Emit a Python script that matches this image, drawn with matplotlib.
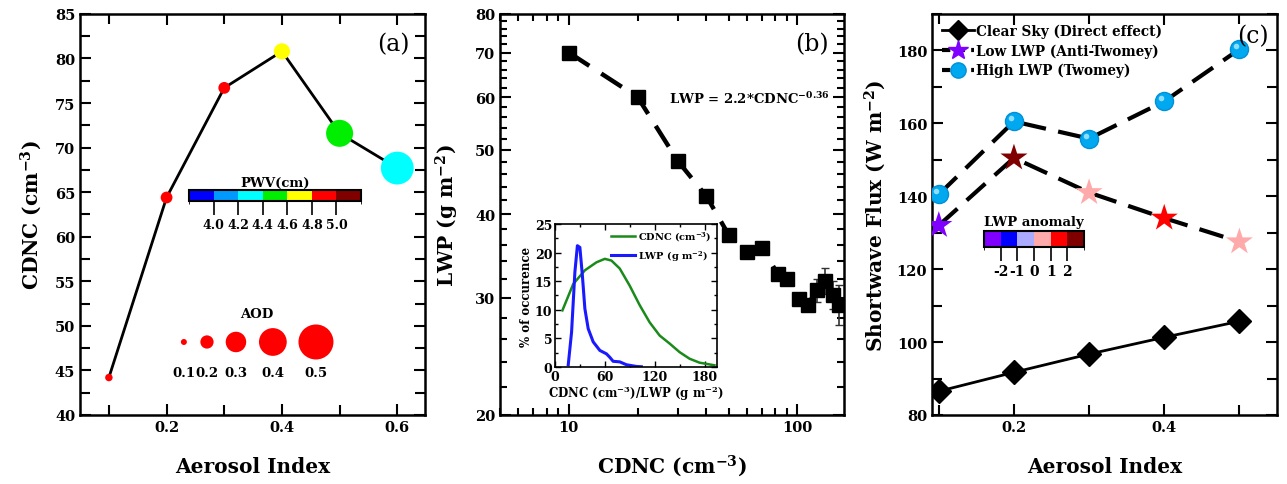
import numpy as np
import matplotlib
matplotlib.use('Agg')
import matplotlib.pyplot as plt
import matplotlib.cm as cm
import matplotlib.transforms as mtransforms
from matplotlib.colors import ListedColormap, BoundaryNorm
from matplotlib.ticker import FixedLocator, MultipleLocator, NullFormatter, LogLocator
from matplotlib.lines import Line2D

plt.rcParams['font.family'] = 'DejaVu Serif'
plt.rcParams['font.weight'] = 'bold'
plt.rcParams['mathtext.fontset'] = 'custom'
plt.rcParams['mathtext.rm'] = 'DejaVu Serif:bold'
plt.rcParams['mathtext.it'] = 'DejaVu Serif:bold'
plt.rcParams['mathtext.bf'] = 'DejaVu Serif:bold'
plt.rcParams['axes.linewidth'] = 1.8
plt.rcParams['axes.labelweight'] = 'bold'

# ---- panel (a) data ----
ai_a = [0.1, 0.2, 0.3, 0.4, 0.5, 0.6]
cdnc_a = [44.2, 64.4, 76.7, 80.8, 71.6, 67.7]
pwv_a = [4.9, 4.9, 4.9, 4.7, 4.5, 4.3]
aod_a = [0.12, 0.18, 0.18, 0.24, 0.39, 0.47]
aod_legend = [0.1, 0.2, 0.3, 0.4, 0.5]
pwv_colors = ['#0000ff', '#0099ff', '#00ffff', '#00ee00', '#ffff00', '#ff0000', '#800000']
pwv_bounds = [3.8, 4.0, 4.2, 4.4, 4.6, 4.8, 5.0, 5.2]
pwv_ticks = [4.0, 4.2, 4.4, 4.6, 4.8, 5.0]

# ---- panel (b) data ----
cdnc_b = [10, 20, 30, 40, 50, 60, 70, 82, 90, 102, 111, 122, 132, 143, 152]
lwp_b = [70, 60, 48.1, 42.6, 37.3, 35.1, 35.6, 32.6, 32.0, 29.9, 29.3, 30.8, 31.8, 30.3, 29.3]
lwp_err = [0, 0, 0, 0, 0, 0, 0, 0, 0, 0, 0.6, 1.2, 1.4, 1.5, 2.0]

# inset distributions
cdnc_bin = [9, 22, 36, 50, 60, 68, 78, 90, 102, 114, 126, 138, 150, 162, 174, 192]
cdnc_pct = [9.9, 14.5, 16.9, 18.3, 18.9, 18.6, 17.2, 14.2, 10.8, 7.8, 5.5, 4.1, 2.6, 1.45, 0.76, 0.3]
lwp_bin = [16, 20, 24, 27, 30, 33, 36, 40, 46, 54, 62, 66, 70, 78, 86, 98, 104]
lwp_pct = [0.4, 6.1, 16.6, 21.2, 20.9, 16.0, 10.2, 6.7, 4.4, 2.9, 2.3, 1.7, 1.0, 0.9, 0.4, 0.1, 0.05]

# ---- panel (c) data ----
ai_c = [0.1, 0.2, 0.3, 0.4, 0.5]
clear_sky = [86.5, 91.7, 96.7, 101.3, 105.7]
low_lwp = [132.0, 150.5, 141.0, 134.0, 127.5]
low_anom = [-2.5, 2.5, 0.5, 1.5, 0.5]
high_lwp = [140.5, 160.5, 155.8, 166.0, 180.3]
anom_colors = ['#8000ff', '#0000ff', '#aaaaff', '#ffaaaa', '#ff0000', '#800000']
anom_bounds = [-3, -2, -1, 0, 1, 2, 3]
anom_ticks = [-2, -1, 0, 1, 2]


def aod_size(a):
    d = (72.5 * np.asarray(a) - 1.25) * 0.72
    return d ** 2


def style_ticks(ax):
    ax.tick_params(which='both', direction='in', top=True, right=True,
                   width=1.5, labelsize=10.5)
    ax.tick_params(which='major', length=8)
    ax.tick_params(which='minor', length=7)
    for lab in ax.get_xticklabels() + ax.get_yticklabels():
        lab.set_fontweight('bold')


fig = plt.figure(figsize=(12.87, 4.85), dpi=100)

# ================= (a) =================
ax1 = fig.add_axes([0.0622, 0.1423, 0.268, 0.827])
pwv_cmap = ListedColormap(pwv_colors)
pwv_norm = BoundaryNorm(pwv_bounds, pwv_cmap.N)
ax1.plot(ai_a, cdnc_a, color='black', lw=2, zorder=2)
ax1.scatter(ai_a, cdnc_a, s=aod_size(aod_a), c=pwv_a, cmap=pwv_cmap, norm=pwv_norm,
            edgecolors='none', zorder=3)
ax1.set_xlim(0.05, 0.648)
ax1.set_ylim(40, 85)
ax1.xaxis.set_major_locator(FixedLocator([0.2, 0.4, 0.6]))
ax1.xaxis.set_minor_locator(FixedLocator([0.1, 0.3, 0.5]))
ax1.yaxis.set_major_locator(MultipleLocator(5))
ax1.yaxis.set_minor_locator(MultipleLocator(2.5))
style_ticks(ax1)
ax1.set_xlabel('Aerosol Index', fontsize=14.5, labelpad=16)
ax1.set_ylabel(r'CDNC (cm$^{-3}$)', fontsize=14.5, labelpad=8)
ax1.text(0.955, 0.955, '(a)', transform=ax1.transAxes, ha='right', va='top',
         fontsize=17, fontweight='normal')

# AOD size legend
leg_x = [0.301, 0.368, 0.452, 0.559, 0.684]
ax1.scatter(leg_x, [0.182] * 5, s=aod_size(aod_legend), color='red',
            edgecolors='none', transform=ax1.transAxes, clip_on=False)
for xx, a in zip(leg_x, aod_legend):
    ax1.text(xx, 0.107, f'{a:.1f}', transform=ax1.transAxes, ha='center',
             va='center', fontsize=9.5)
ax1.text(0.513, 0.252, 'AOD', transform=ax1.transAxes, ha='center', va='center',
         fontsize=9.5)

# PWV colorbar
cax1 = fig.add_axes([0.1469, 0.5835, 0.1336, 0.0227])
cb1 = fig.colorbar(cm.ScalarMappable(norm=pwv_norm, cmap=pwv_cmap), cax=cax1,
                   orientation='horizontal', ticks=pwv_ticks)
cb1.outline.set_linewidth(1.5)
cax1.tick_params(length=10, width=1.2, labelsize=9, pad=2)
cax1.set_xticklabels([f'{t:.1f}' for t in pwv_ticks], fontweight='bold')
cax1.set_title('PWV(cm)', fontsize=9.5, fontweight='bold', pad=3)

# ================= (b) =================
ax2 = fig.add_axes([0.3885, 0.1423, 0.2673, 0.827])
ax2.set_xscale('log')
ax2.set_yscale('log')
ax2.plot(cdnc_b, lwp_b, color='black', lw=3.2, dashes=(5.5, 3.2), zorder=2)
ax2.errorbar(cdnc_b, lwp_b, yerr=lwp_err, fmt='none', ecolor='#333333',
             elinewidth=1.2, capsize=3, zorder=2)
ax2.plot(cdnc_b, lwp_b, 's', color='black', ms=10, zorder=3)
ax2.set_xlim(5, 160)
ax2.set_ylim(20, 80)
ax2.xaxis.set_major_locator(FixedLocator([10, 100]))
ax2.xaxis.set_minor_locator(LogLocator(base=10, subs=np.arange(2, 10)))
ax2.xaxis.set_minor_formatter(NullFormatter())
ax2.xaxis.set_major_formatter(plt.FuncFormatter(lambda v, p: f'{v:g}'))
ax2.yaxis.set_major_locator(FixedLocator([20, 30, 40, 50, 60, 70, 80]))
ax2.yaxis.set_minor_locator(FixedLocator(np.arange(22, 80, 2)))
ax2.yaxis.set_minor_formatter(NullFormatter())
ax2.yaxis.set_major_formatter(plt.FuncFormatter(lambda v, p: f'{v:g}'))
style_ticks(ax2)
ax2.tick_params(which='minor', length=5)
ax2.set_xlabel(r'CDNC (cm$^{-3}$)', fontsize=14.5, labelpad=13)
ax2.set_ylabel(r'LWP (g m$^{-2}$)', fontsize=14.5, labelpad=10)
ax2.text(0.955, 0.955, '(b)', transform=ax2.transAxes, ha='right', va='top',
         fontsize=17, fontweight='normal')
ax2.text(0.49, 0.79, r'LWP = 2.2*CDNC$^{-0.36}$', transform=ax2.transAxes,
         fontsize=9.5, va='center')

# inset
ax3 = fig.add_axes([0.4312, 0.2412, 0.1259, 0.295])
ax3.plot(cdnc_bin, cdnc_pct, color='#1a8a1a', lw=1.8, label=r'CDNC (cm$^{-3}$)')
ax3.plot(lwp_bin, lwp_pct, color='#1a1aff', lw=2.2, label=r'LWP (g m$^{-2}$)')
ax3.set_xlim(0, 195)
ax3.set_ylim(0, 25)
ax3.xaxis.set_major_locator(MultipleLocator(60))
ax3.xaxis.set_minor_locator(MultipleLocator(30))
ax3.yaxis.set_major_locator(MultipleLocator(5))
ax3.yaxis.set_minor_locator(MultipleLocator(2.5))
ax3.tick_params(which='both', direction='in', top=True, right=True, width=1,
                labelsize=9, pad=2)
ax3.tick_params(which='major', length=4)
ax3.tick_params(which='minor', length=2.5)
for sp in ax3.spines.values():
    sp.set_linewidth(1.2)
ax3.set_xlabel(r'CDNC (cm$^{-3}$)/LWP (g m$^{-2}$)', fontsize=8.5, labelpad=0)
ax3.set_ylabel('% of occurence', fontsize=8.5, labelpad=1)
ax3.legend(loc='upper right', frameon=False, fontsize=7, handlelength=2.4,
           borderaxespad=0.2, labelspacing=0.5, handletextpad=0.3)

# ================= (c) =================
ax4 = fig.add_axes([0.7242, 0.1423, 0.268, 0.827])
anom_cmap = ListedColormap(anom_colors)
anom_norm = BoundaryNorm(anom_bounds, anom_cmap.N)
ax4.plot(ai_c, clear_sky, color='black', lw=2, zorder=2)
ax4.plot(ai_c, clear_sky, 'D', color='black', ms=12, zorder=3)
ax4.plot(ai_c, low_lwp, color='black', lw=3, dashes=(6, 3), zorder=2)
ax4.scatter(ai_c, low_lwp, s=420, marker='*', c=low_anom, cmap=anom_cmap,
            norm=anom_norm, edgecolors='none', zorder=3)
ax4.plot(ai_c, high_lwp, color='black', lw=3, dashes=(6, 3), zorder=2)
ax4.plot(ai_c, high_lwp, 'o', color='#00a8f0', mec='#0090d8', ms=13, zorder=3)
hl = mtransforms.offset_copy(ax4.transData, fig=fig, x=-3, y=3, units='dots')
ax4.plot(ai_c, high_lwp, 'o', color='#9fe4ff', mec='none', ms=4, alpha=0.9,
         transform=hl, zorder=4)
ax4.set_xlim(0.091, 0.55)
ax4.set_ylim(80, 190)
ax4.xaxis.set_major_locator(FixedLocator([0.2, 0.4]))
ax4.xaxis.set_minor_locator(FixedLocator([0.1, 0.3, 0.5]))
ax4.yaxis.set_major_locator(MultipleLocator(20))
ax4.yaxis.set_minor_locator(MultipleLocator(10))
style_ticks(ax4)
ax4.set_xlabel('Aerosol Index', fontsize=14.5, labelpad=16)
ax4.set_ylabel(r'Shortwave Flux (W m$^{-2}$)', fontsize=14.5, labelpad=6)
ax4.text(0.975, 0.975, '(c)', transform=ax4.transAxes, ha='right', va='top',
         fontsize=17, fontweight='normal')

handles = [
    Line2D([], [], color='black', lw=2, marker='D', ms=10, mfc='black'),
    Line2D([], [], color='black', lw=3, dashes=(2, 1.5), marker='*', ms=15,
           mfc='#8000ff', mec='#8000ff'),
    Line2D([], [], color='black', lw=3, dashes=(2, 1.5), marker='o', ms=11,
           mfc='#00a8f0', mec='#0090d8'),
]
labels = ['Clear Sky (Direct effect)', 'Low LWP (Anti-Twomey)', 'High LWP (Twomey)']
ax4.legend(handles, labels, loc='upper left', frameon=False, fontsize=9.8,
           handlelength=2.4, handletextpad=0.15, borderaxespad=0.3,
           labelspacing=0.4)

# LWP anomaly colorbar
cax2 = fig.add_axes([0.7646, 0.4887, 0.0777, 0.033])
cb2 = fig.colorbar(cm.ScalarMappable(norm=anom_norm, cmap=anom_cmap), cax=cax2,
                   orientation='horizontal', ticks=anom_ticks)
cb2.outline.set_linewidth(1.5)
cax2.tick_params(length=10, width=1.2, labelsize=10, pad=2)
cax2.set_xticklabels([str(t) for t in anom_ticks], fontweight='bold')
cax2.set_title('LWP anomaly', fontsize=9.5, fontweight='bold', pad=4)

fig.savefig('out.png', dpi=100)
